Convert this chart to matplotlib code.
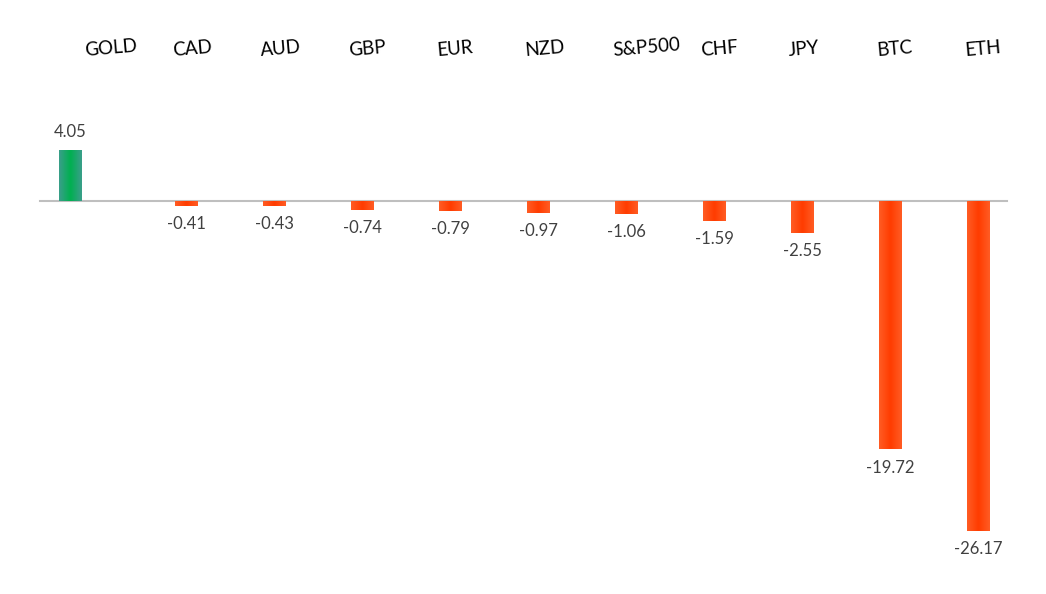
import numpy as np
import matplotlib.pyplot as plt
from matplotlib.colors import LinearSegmentedColormap

# Weekly performance, % change
assets = ['GOLD', 'CAD', 'AUD', 'GBP', 'EUR', 'NZD', 'S&P500', 'CHF', 'JPY', 'BTC', 'ETH']
changes = [4.05, -0.41, -0.43, -0.74, -0.79, -0.97, -1.06, -1.59, -2.55, -19.72, -26.17]

plt.rcParams['font.family'] = ['Lato', 'DejaVu Sans']

fig = plt.figure(figsize=(10.46, 5.94), dpi=100)
ax = fig.add_axes([0, 0, 1, 1])

x = np.arange(len(assets))
vals = np.array(changes)
# gains and losses were two series in the original, so the gain bar sits left of its slot
gain_shift = -0.32
pos = np.where(vals > 0, x + gain_shift, x)

bars = ax.bar(pos, vals, width=0.26, color='none', zorder=2)

# horizontal gradient: saturated in the middle, lighter at the edges
green_cm = LinearSegmentedColormap.from_list('g', ['#3a9f8a', '#00b050', '#3a9f8a'])
red_cm = LinearSegmentedColormap.from_list('r', ['#ff5c24', '#ff3c00', '#ff5c24'])
grad = np.linspace(0, 1, 64).reshape(1, -1)
for b, v in zip(bars, vals):
    x0, y0 = b.get_x(), b.get_y()
    w, h = b.get_width(), b.get_height()
    cm = green_cm if v > 0 else red_cm
    im = ax.imshow(grad, cmap=cm, aspect='auto', interpolation='bicubic',
                   extent=[x0, x0 + w, y0, y0 + h], zorder=2)
    im.set_clip_path(b)

# data labels
for p, v in zip(pos, vals):
    off = 13 if v > 0 else -13
    ax.annotate(f'{v:.2f}', (p, v), xytext=(0, off), textcoords='offset points',
                ha='center', va='center', fontsize=12, color='#404040')

# category names across the top, slightly tilted
for i, name in enumerate(assets):
    ax.text(i - 0.15, 11.5, name, ha='left', va='baseline', rotation=5,
            rotation_mode='anchor', fontsize=13.5, color='#000000')

ax.axhline(0, xmin=0.038, xmax=0.963, color='#bfbfbf', lw=1.5, zorder=1)

ax.set_xlim(-1.119, 10.767)
ax.set_ylim(-31.19, 15.95)
ax.axis('off')

fig.savefig('out.png', dpi=100, facecolor='white')
